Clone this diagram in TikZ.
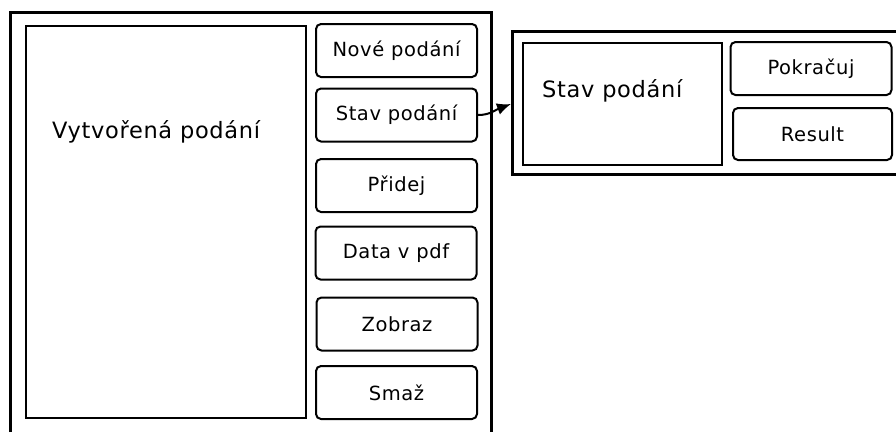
\documentclass[tikz,border=0pt]{standalone}
\usepackage{fontspec}
\setmainfont{DejaVu Sans}
\newfontfamily\btnfont[LetterSpace=3]{DejaVu Sans}
\newfontfamily\bigfont[LetterSpace=3]{DejaVu Sans}
\usetikzlibrary{arrows.meta}
\begin{document}
\begin{tikzpicture}[x=1pt,y=-1pt,
  btn/.style={draw,line width=2pt,rounded corners=5pt,minimum width=161pt,minimum height=53pt,inner sep=0pt,font=\btnfont\fontsize{19.5}{22}\selectfont},
  panel/.style={draw,line width=2pt,inner sep=0pt},
  frame/.style={line width=3pt},
  lbl/.style={anchor=base west,inner sep=0pt,font=\bigfont\fontsize{22.5}{26}\selectfont}]
\useasboundingbox (0,0) rectangle (896,432);
% left window
\draw[frame] (10,432) -- (10,12) -- (491,12) -- (491,432);
\node[panel,minimum width=280pt,minimum height=392pt] (list) at (166,222) {};
\node[lbl] (listlbl) at (52,138) {Vytvořená podání};
\node[btn] (b1) at (396.5,50.5) {Nové podání};
\node[btn] (b2) at (396.5,115) {Stav podání};
\node[btn] (b3) at (396.5,185.5) {Přidej};
\node[btn] (b4) at (396,253) {Data v pdf};
\node[btn] (b5) at (397,324) {Zobraz};
\node[btn] (b6) at (396.5,392.5) {Smaž};
% right window
\draw[frame] (896,31) -- (512,31) -- (512,174) -- (896,174);
\coordinate (rwest) at (511,104);
\node[panel,minimum width=199pt,minimum height=122pt] (state) at (622.5,104) {};
\node[lbl] (statelbl) at (542,97) {Stav podání};
\node[btn] (p1) at (811,68.5) {Pokračuj};
\node[btn,minimum width=159pt,minimum height=52pt] (p2) at (812.5,134) {Result};
% connector
\draw[line width=2pt,-{Latex[length=14pt,width=12pt]}] (b2.east) .. controls +(12,0) and +(-16,6) .. (rwest);
\end{tikzpicture}
\end{document}
